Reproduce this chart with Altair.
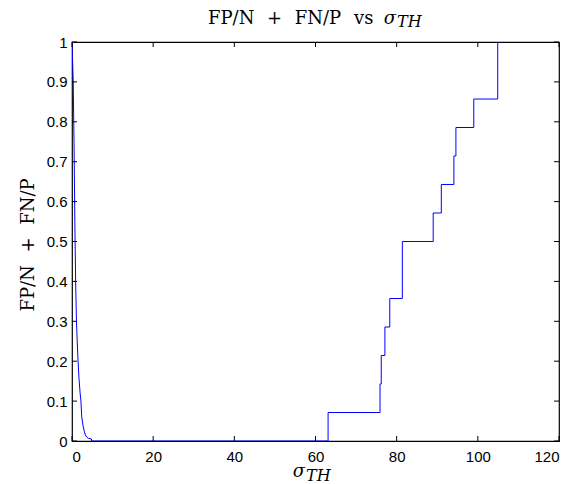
import altair as alt
import pandas as pd

# curve data (sigma_TH, FP/N + FN/P)
sigma = [0.0, 0.3, 0.5, 0.7, 0.9, 1.1, 1.4, 1.7, 2.0, 2.2, 2.4, 2.7, 3.0, 3.3, 3.6, 4.0, 4.8, 4.8,
         63.1, 63.1, 75.9, 75.9, 76.2, 76.2, 77.1, 77.1, 78.3, 78.3, 81.4, 81.4,
         89.0, 89.0, 91.0, 91.0, 94.1, 94.1, 94.6, 94.6, 99.0, 99.0, 104.9, 104.9]
err = [1.0, 0.9, 0.75, 0.55, 0.4, 0.3, 0.22, 0.16, 0.12, 0.1, 0.06, 0.04, 0.025, 0.015, 0.01, 0.007, 0.005, 0.0,
       0.0, 0.0714, 0.0714, 0.1429, 0.1429, 0.2143, 0.2143, 0.2857, 0.2857, 0.3571, 0.3571, 0.5,
       0.5, 0.5714, 0.5714, 0.6429, 0.6429, 0.7143, 0.7143, 0.7857, 0.7857, 0.8571, 0.8571, 1.0]

x_ticks = [0, 20, 40, 60, 80, 100, 120]
y_ticks = [0, 0.1, 0.2, 0.3, 0.4, 0.5, 0.6, 0.7, 0.8, 0.9, 1.0]

W, H = 487, 399
TL = 5

df = pd.DataFrame({"sigma": sigma, "err": err, "i": range(len(sigma))})
xt = pd.DataFrame({"v": x_ticks})
yt = pd.DataFrame({"v": y_ticks})

xs = alt.Scale(domain=[0, 120], nice=False, zero=False)
ys = alt.Scale(domain=[0, 1], nice=False, zero=False)

lab = dict(labelFont="Liberation Sans", labelFontSize=15, labelColor="black",
           ticks=False, domain=False, grid=False, title=None, labelOverlap=False)
xaxis = alt.Axis(values=x_ticks, labelPadding=8, **lab)
yaxis = alt.Axis(values=y_ticks, format="~g", labelPadding=5, **lab)

line = alt.Chart(df).mark_line(color="#0000ff", strokeWidth=1, clip=True).encode(
    x=alt.X("sigma:Q", scale=xs, axis=xaxis),
    y=alt.Y("err:Q", scale=ys, axis=yaxis),
    order="i:Q",
)

tick_style = dict(color="black", strokeWidth=1)
bx = alt.Chart(xt).mark_rule(**tick_style).encode(
    x=alt.X("v:Q", scale=xs, axis=xaxis), y=alt.value(H), y2=alt.value(H - TL))
tx = alt.Chart(xt).mark_rule(**tick_style).encode(
    x=alt.X("v:Q", scale=xs, axis=xaxis), y=alt.value(0), y2=alt.value(TL))
ly = alt.Chart(yt).mark_rule(**tick_style).encode(
    y=alt.Y("v:Q", scale=ys, axis=yaxis), x=alt.value(0), x2=alt.value(TL))
ry = alt.Chart(yt).mark_rule(**tick_style).encode(
    y=alt.Y("v:Q", scale=ys, axis=yaxis), x=alt.value(W), x2=alt.value(W - TL))

serif = "DejaVu Serif"
OX, OY = 72, 42  # page position of plot origin


def txt(s, x, y, size, italic=False, align="left", angle=0):
    kw = dict(text=s, font=serif, fontSize=size, align=align, baseline="alphabetic", color="black")
    if italic:
        kw["fontStyle"] = "italic"
    if angle:
        kw["angle"] = angle
    return alt.Chart(pd.DataFrame({"a": [0]})).mark_text(**kw).encode(
        x=alt.value(x - OX), y=alt.value(y - OY))


sp = "\u2002\u2009"
main_label = "FP/N" + sp + "+" + sp + "FN/P"

title1 = txt(main_label, 208, 24, 18, align="left")
title2 = txt("vs", 354, 24, 18, align="left")
title3 = txt("σ", 396, 24, 18, italic=True, align="right")
title4 = txt("TH", 397, 27, 16, italic=True, align="left")

xl1 = txt("σ", 305, 477, 18, italic=True, align="right")
xl2 = txt("TH", 306, 481, 16, italic=True, align="left")

yl = txt(main_label, 34, 245, 18, align="center", angle=270)

chart = alt.layer(line, bx, tx, ly, ry, title1, title2, title3, title4, xl1, xl2, yl).properties(
    width=W, height=H,
    autosize=alt.AutoSizeParams(type="none"),
    padding={"left": 64, "top": 34, "right": 14, "bottom": 43},
).configure_view(stroke="black", strokeWidth=1.2)

chart.save("out.html", embed_options={"renderer": "svg", "actions": False})
